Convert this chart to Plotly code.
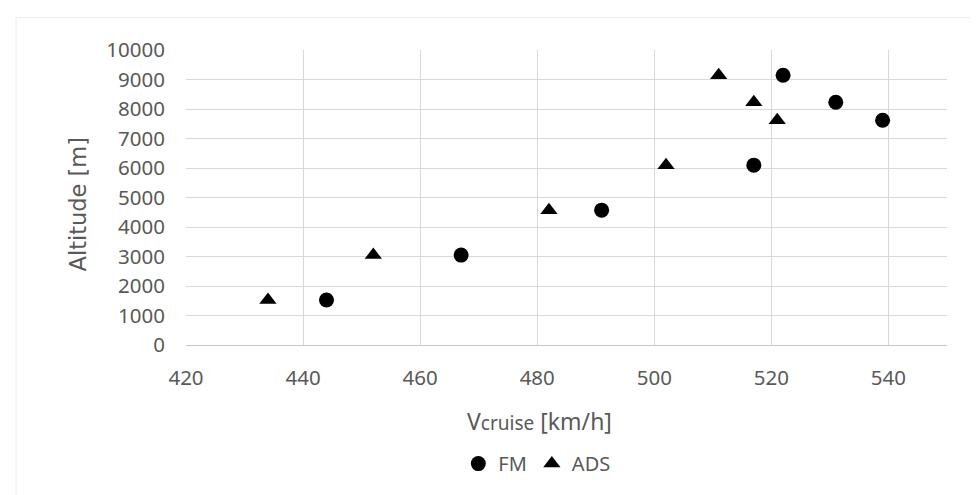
import plotly.graph_objects as go

altitude_m = [1524, 3048, 4572, 6096, 7620, 8230, 9144]
fm_speed = [444, 467, 491, 517, 539, 531, 522]
ads_speed = [434, 452, 482, 502, 521, 517, 511]

x_ticks = [420, 440, 460, 480, 500, 520, 540]
y_ticks = [0, 1000, 2000, 3000, 4000, 5000, 6000, 7000, 8000, 9000, 10000]

TXT = "#595959"
GRID = "#d9d9d9"
FONT = "Noto Sans"

fig = go.Figure()
fig.add_trace(go.Scatter(x=fm_speed, y=altitude_m, mode="markers", name="FM",
                         marker=dict(symbol="circle", size=15, color="black")))
fig.add_trace(go.Scatter(x=ads_speed, y=altitude_m, mode="markers", name="ADS",
                         marker=dict(symbol="triangle-up", size=15, color="black")))

fig.update_layout(
    width=978, height=495,
    margin=dict(l=178, r=39, t=42, b=158),
    paper_bgcolor="white", plot_bgcolor="white",
    font=dict(family=FONT, color=TXT, size=20),
    showlegend=True,
    legend=dict(orientation="h", x=0.461, xanchor="center", y=-0.402, yanchor="middle",
                font=dict(size=20, color=TXT, family=FONT), itemwidth=30,
                bgcolor="rgba(0,0,0,0)"),
    xaxis=dict(range=[420, 550], tickmode="array", tickvals=x_ticks,
               ticktext=[str(v) for v in x_ticks],
               showgrid=True, gridcolor=GRID, gridwidth=1.3,
               showline=True, linecolor="#c8c8c8", linewidth=1.3,
               zeroline=False, ticks="", ticklabelstandoff=14,
               tickfont=dict(size=20.5, color=TXT, family=FONT)),
    yaxis=dict(range=[0, 10000], tickmode="array", tickvals=y_ticks,
               ticktext=[str(v) for v in y_ticks],
               showgrid=True, gridcolor=GRID, gridwidth=1.3,
               showline=False, zeroline=False, ticks="", ticklabelstandoff=20,
               tickfont=dict(size=20.5, color=TXT, family=FONT)),
    annotations=[
        dict(text="V<span style='font-size:19px'>cruise</span> [km/h]",
             xref="paper", yref="paper", x=0.464, y=-0.256,
             xanchor="center", yanchor="middle", showarrow=False,
             font=dict(size=23, color=TXT, family=FONT)),
        dict(text="Altitude [m]", xref="paper", yref="paper",
             x=(70 - 178) / 761, y=(336.7 - 196.5) / 294.4,
             xanchor="center", yanchor="middle", showarrow=False, textangle=-90,
             font=dict(size=22.5, color=TXT, family="DejaVu Sans")),
    ],
    shapes=[dict(type="rect", xref="paper", yref="paper",
                 x0=(8 - 178) / 761, x1=(990 - 178) / 761,
                 y0=(336.7 - 505) / 294.4, y1=(336.7 - 10) / 294.4,
                 line=dict(color="#ececec", width=1), layer="below")],
)

fig.write_html("out.html")
